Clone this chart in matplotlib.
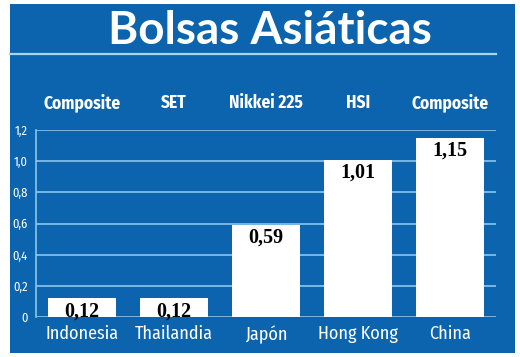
import matplotlib
matplotlib.use("Agg")
import matplotlib.pyplot as plt
from matplotlib.patches import Rectangle
from matplotlib.lines import Line2D
import matplotlib.transforms as mtransforms

title = "Bolsas Asiáticas"
countries = ["Indonesia", "Thailandia", "Japón", "Hong Kong", "China"]
indices = ["Composite", "SET", "Nikkei 225", "HSI", "Composite"]
values = [0.12, 0.12, 0.59, 1.01, 1.15]
value_labels = ["0,12", "0,12", "0,59", "1,01", "1,15"]
yticks = [0, 0.2, 0.4, 0.6, 0.8, 1.0, 1.2]
ytick_labels = ["0", "0,2", "0,4", "0,6", "0,8", "1,0", "1,2"]

BLUE = "#0b64ad"
GRID = "#8ac6ec"
NARROW = ["Fira Sans Condensed", "Asap Condensed", "Barlow Condensed", "DejaVu Sans"]

W, H = 520, 357
fig = plt.figure(figsize=(W / 100, H / 100), dpi=100, facecolor="white")

# blue panel
fig.patches.append(Rectangle((10 / W, 1 - 353 / H), (515 - 10) / W, (353 - 4) / H,
                             transform=fig.transFigure, facecolor=BLUE,
                             edgecolor="none", zorder=-10))
# line under title
fig.lines.append(Line2D([10 / W, 496 / W], [1 - 54 / H, 1 - 54 / H],
                        transform=fig.transFigure, color="#a5d6f4", lw=1.6, zorder=1))
fig.text(270 / W, 1 - 31 / H, title, ha="center", va="center", color="white",
         fontsize=33, fontweight="bold", family=["Lato", "DejaVu Sans"])

ax = fig.add_axes([36 / W, 1 - 317 / H, 460 / W, 187 / H])
ax.set_facecolor("none")
x = list(range(len(countries)))
ax.bar(x, values, width=0.73, color="white", zorder=3)
ax.set_xlim(-0.5, len(countries) - 0.5)
ax.set_ylim(0, 1.2)
ax.set_yticks(yticks)
ax.set_yticklabels(ytick_labels, color="white", fontsize=9, family=NARROW)
ax.set_xticks(x)
ax.set_xticklabels(countries, color="white", fontsize=13, family=NARROW)
ax.tick_params(axis="both", length=0)
ax.tick_params(axis="y", pad=6)
ax.tick_params(axis="x", pad=6)
for s in ["top", "right", "bottom"]:
    ax.spines[s].set_visible(False)
ax.spines["left"].set_color(GRID)
ax.spines["left"].set_linewidth(1.2)
ax.yaxis.grid(True, color=GRID, lw=1.2, zorder=1)
ax.set_axisbelow(True)

off = mtransforms.offset_copy(ax.transData, fig=fig, y=-3, units="dots")
for xi, v, lab in zip(x, values, value_labels):
    ax.text(xi, v, lab, transform=off, ha="center", va="top", color="black",
            fontsize=14.5, fontweight="bold", family=["Liberation Serif", "DejaVu Serif"],
            zorder=4)

bl = mtransforms.blended_transform_factory(ax.transData, ax.transAxes)
for xi, name in zip(x, indices):
    ax.text(xi, 1.145, name, transform=bl, ha="center", va="center", color="white",
            fontsize=12.5, fontweight="bold", family=NARROW)

fig.savefig("out.png", dpi=100, facecolor="white")
